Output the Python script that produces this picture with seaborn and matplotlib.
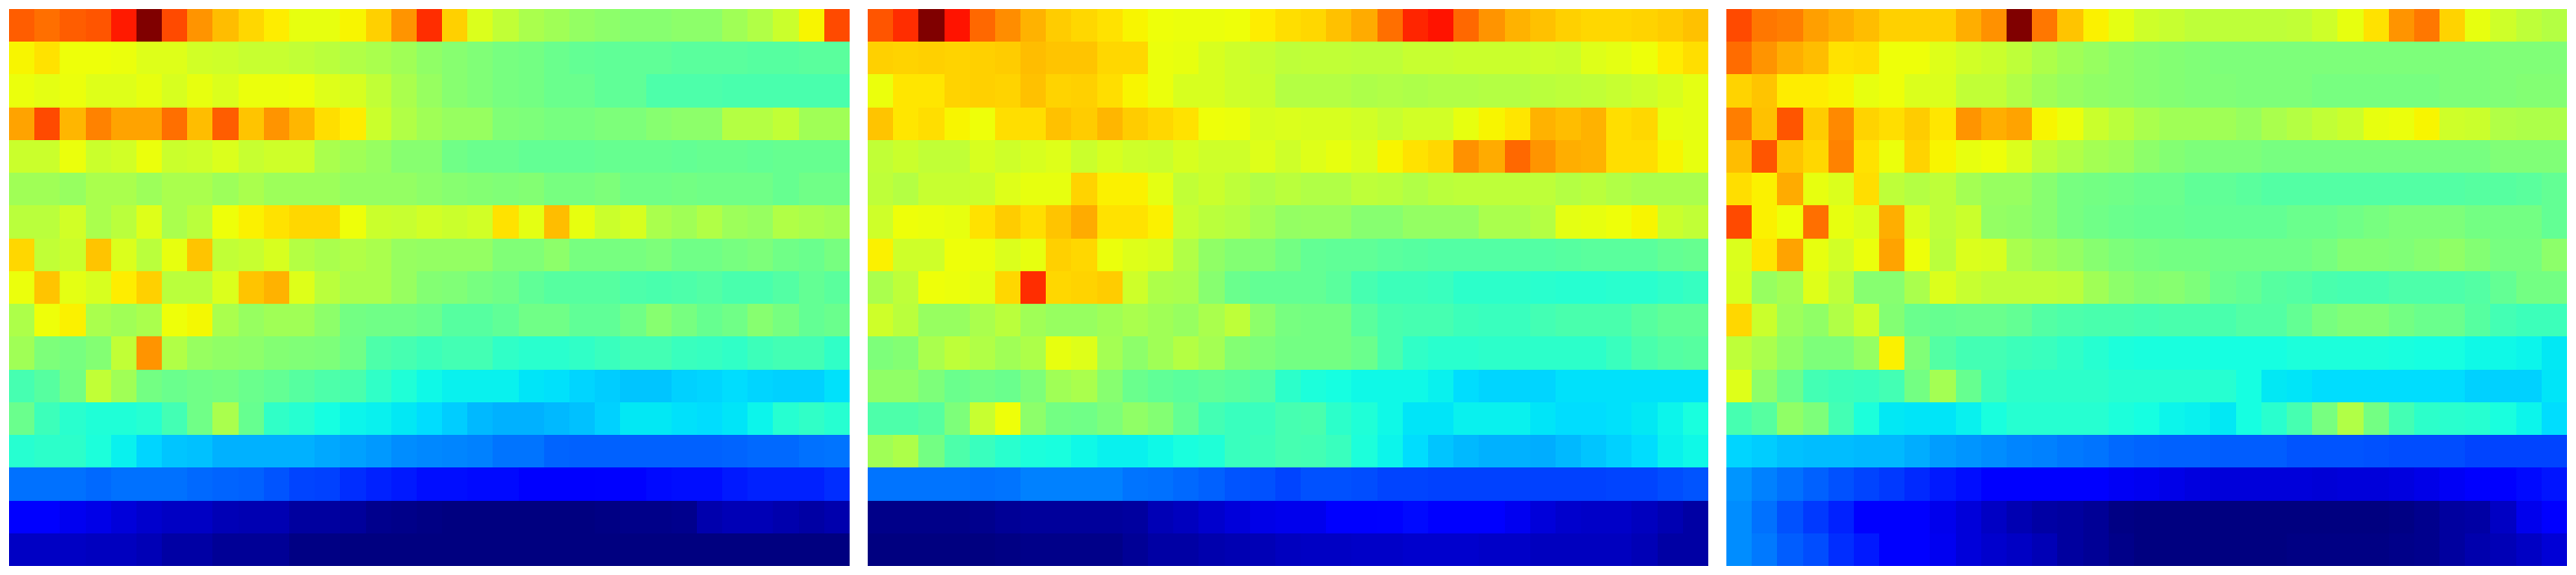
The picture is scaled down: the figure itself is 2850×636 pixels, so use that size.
import matplotlib
matplotlib.use("Agg")
import matplotlib.pyplot as plt
import numpy as np
import seaborn as sns

# values, on a 0-100 scale, top row first
panel_a = [
    [81,79,81,82,88,100,83,75,71,68,66,63,63,65,69,75,86,69,61.5,58.5,55.5,54.5,53,52,51.5,51.5,52,52,54.5,56.5,59.5,65,83],
    [65,67,64,64,63.5,62,62,60.5,60,59,59,58.5,57.5,56.5,55.5,54.5,52.5,51.5,50.5,49.5,49,48,47,46.5,46.5,46.5,46,46,46,45.5,45.5,46,46],
    [63.5,62.5,63.5,62,62,63,61,63,61.5,63.5,63.5,64,62,61,58.5,55.5,53.5,51.5,50.5,49.5,49,48,48,46.5,46.5,44.5,44.5,44.5,44,44,44,44,44],
    [73.5,83,71.5,77,73.5,73.5,79,71,81,70,75,71.5,67.5,66,59.5,56.5,54.5,53.5,53.5,50.5,50,49.5,49.5,50,50,51.5,52,52,57,57,58.5,54.5,54.5],
    [59.5,59.5,63.5,59.5,60.5,63.5,59.5,60,61.5,59,60,60,55.5,54.5,53.5,51.5,51.5,48.5,48,48,47,47,47,47.5,47.5,47.5,47,47.5,47.5,47,47.5,47.5,47.5],
    [54.5,54.5,53.5,55.5,55.5,54,55.5,55.5,54,55.5,54,54,54,53,53,53,52,51.5,51,50.5,51,49.5,49.5,50,48.5,48.5,49,48.5,48.5,48.5,47.5,48.5,48.5],
    [57.5,57.5,60.5,55.5,57.5,62,55.5,57.5,64,65.5,67,68,68,64,59.5,59,60.5,59.5,60.5,67,62.5,71,63,59.5,61,55.5,54.5,56.5,54,53.5,56.5,55.5,55],
    [68,58.5,59.5,70,61.5,57.5,63,70,58.5,59,61,57,55.5,56.5,55.5,53.5,53,53,53,50.5,50.5,52,49.5,49.5,49.5,50,48.5,48.5,49.5,50,48.5,48,49.5],
    [63.5,70,62.5,61,66,69,57.5,57.5,61.5,70,72,62,57.5,55.5,55.5,53.5,51,50.5,49.5,48.5,46.5,45.5,45.5,45.5,44.5,44,44.5,45,44,44,45,47,46],
    [56,64,65.5,55.5,54.5,55.5,64,64.5,55.5,53.5,54.5,54.5,52,49,48.5,48.5,48,45.5,45.5,46.5,48.5,48.5,46.5,46.5,48.5,51.5,49.5,47.5,48.5,51.5,49.5,47,48],
    [54.5,50,49.5,51,58.5,75,56.5,53.5,52.5,52,51,50.5,50,48.5,44.5,43.5,42.5,43,43,41,40,40,41,42,43,43,42,41.5,41,42.5,43,43,41],
    [43.5,45.5,49,58.5,54.5,49,48,48.5,49,48,47,45.5,44.5,44,41,39,37,36,36,36,35,34.5,33.5,32.5,32,32,33,33.5,34,33.5,33,33,34.5],
    [48,42.5,40,39,39,39.5,43,48.5,55.5,47.5,41,39.5,37.5,36.5,36,35.5,34,32.5,30.5,30,30,30.5,31.5,33,35.5,35.5,34.5,34,35,36.5,39.5,41,39.5],
    [39.5,40.5,40.5,38.5,36,33.5,32,31.5,30,30,30,30,29,28.5,27.5,26.5,26,25.5,25,24,24,22.5,22,22,22,22,22,22,22.5,23,23,23.5,24],
    [23.5,23.5,23.5,23,23.5,23.5,23.5,23,22.5,22,21,19.5,19,17,16,15,14,14,13.5,13.5,12,12,12,12.5,12.5,13.5,14,14,15,16,16,16,17],
    [11.5,11.5,10,9,8,7,6,6,5,4.5,4.5,3,3,2.5,1.5,1,0.5,0.3,0.3,0.3,0.3,0.3,0.3,0.6,1,1,1.5,4,5,5,4,3.5,4],
    [6,6,6,5.5,5.5,5,3.5,3.5,2,2,2,0.5,0.5,0.2,0.1,0,0,0,0,0,0,0,0,0,0,0,0,0,0,0,0,0,0],
]

panel_b = [
    [82,86,100,89,80,76,72,69.5,68,67,65,64,63.5,63.5,64,66,67.5,68,70.5,73,79,87,89,80,75,72,70.5,69,68,68,68.5,69.5,70.5],
    [69,68.5,69,68.5,69,69.5,71,70,70,68,68,63.5,63,61,60,59,58,58.5,58.5,58,58,59,59,59.5,59.5,59.5,60,59.5,62,62.5,64,66,67.5],
    [63.5,66.5,66.5,68.5,69,68.5,70.5,68.5,69,67.5,65,63.5,61,61,60,59.5,57,57,57,56,56.5,56,56.5,56.5,57,57,57.5,58,58.5,59,60,61,62.5],
    [70,66.5,67.5,65,64,67.5,67.5,70.5,69.5,71.5,69.5,68,67,64,63.5,61,61.5,61,61,60.5,59,60.5,60.5,63,65,66.5,72,71,72,67.5,68,63,62.5],
    [58.5,59.5,58.5,58.5,61,60,61,62,59.5,61,60,59.5,61,60,60,62,60,62,63,61.5,65,67,68,75.5,73,80,75,72.5,72,67.5,67.5,65,63],
    [58,57,59,59,59.5,62,63,63,68.5,65.5,65.5,62.5,58.5,59.5,58,56.5,57.5,56.5,56.5,58,57.5,56.5,57.5,58,58,58,58,57,57.5,56.5,55.5,55.5,55.5],
    [60,64,63.5,63,67,69.5,67.5,70,73,67,67,65.5,59,57.5,57,55,53,53.5,53.5,51.5,51.5,53,53,53,55.5,55.5,57,62.5,63,64,65,59.5,58.5],
    [65.5,60,60,64,63.5,61.5,63,69,68,63.5,62,61,56.5,52.5,51,51,49,47,46.7,46.7,46,45.5,45,45,45,45,45,45.5,46,46,46,47,47.5],
    [55.5,58,64,63.5,62.5,68,86,68,68.5,69.5,60,56,55.5,51.5,48,47,47,47,46,43.5,42.5,42.5,42,40.5,40.5,40.5,40,39.5,39.5,40,40,41,41.5],
    [60,57.5,53.5,53.5,55.5,57.5,54.5,53.5,53.5,54.5,55.5,54.5,53.5,55.5,58,52,49.5,49,49,46,44,43.5,43.5,42.5,42,42,43,44,44,44,45.5,46.5,46.5],
    [50,51,55.5,58,56.5,54.5,56,63,62,55,52,54.5,57,55,51,50,49,49,49,48,44,41,40,40,40.5,40.5,40.5,40.5,40.5,42,44,45,45.5],
    [52.5,52.5,50,48,48.5,48,50,54.5,55.5,51.5,48,46.5,46,46.5,46,45,40.5,38.5,37.5,37,37,37,36,34,33.5,33.5,33.5,34.5,34.5,34.5,34.5,34.5,34.5],
    [44.5,44.5,45.5,50,59,64,52,49,48.5,50,52.5,51,47,43,42,42,43.5,44,40.5,39,37,35,35,36,36,36,35,34,34,34.5,35.5,36.5,38],
    [54.5,56,49,44.5,42,40,38.5,38,37,36,36,37,38,39,42,42.5,43.5,43,42,38.5,36.5,34,32,30.5,30,30,29.5,30.5,32,33,34,36,37],
    [24,24,24,24,23.5,24,25,25,25,25,24,23.5,23,22,21,20.5,19.5,20.5,20.5,20,19.5,19.5,19,19,19,19,19,19,19,19.5,19.5,20,21],
    [1,1,1,1,1.5,2,2.5,2.5,2.5,2.5,3,5,5.5,7,8,9,9.5,9.5,11.5,11.5,12.5,13.5,11.5,11.5,11.5,10,8,7,6.5,6.5,5.5,4.5,3.5],
    [0,0,0,0,0.3,0.5,1,1,1,1,2,3.5,3.5,4,4.5,5,5.5,6,6,6.5,6.5,7,7,7,6.5,6.5,5.5,5.5,5.5,5.5,5,3.5,3.5],
]

panel_c = [
    [83,78.5,77.5,74,72.5,71,69,69,69,72.5,75.5,100,78.5,70,65.5,62.5,60,59,58,58,58,58,58.5,60,63,67,75,78.5,68.5,63,60,58,57],
    [79.5,75,72.5,71,67,67.5,64,64,62,60.5,59.5,58,56,54.5,53.5,52,51.5,51,50.5,50,50,50,50,50,50,50,50,50,50,50,50.5,50.5,50.5],
    [68.5,70,66,66,65,63,64,61.5,61.5,58.5,58.5,56.5,54.5,53.5,52.5,52,51.5,51,50.5,50.5,50,50,50,49.5,49.5,49.5,49.5,49.5,50,50,50.5,51,51],
    [77.5,70.5,82,69.5,76.5,68.5,67.5,69.5,66.5,75,72.5,73.5,65,63.5,59.5,57.5,55.5,54.5,54.5,54.5,53.5,55.5,57,58.5,59.5,63,63.5,65,60,59.5,56.5,56,56],
    [71,82,70,68,77,67,63.5,68.5,65,63,64,61.5,58,56.5,55,54,52,51,50,50,50,49.5,49.5,49.5,49.5,49.5,49.5,49.5,49.5,49.5,50.5,50.5,50.5],
    [67.5,65.5,73,63,61.5,67.5,58,57,58,55,53.5,53.5,51.5,49.5,49,48.5,48,48,46.5,46.5,46,45,45,45,45,45,45,45,45,45.5,45.5,46,47],
    [83,65.5,64,79,63,61.5,72.5,61.5,58,59.5,53,52.5,51.5,49.5,48.5,48,47.5,47.5,47,47,47,47,48,48,48.5,49.5,50,50,50,49,49,49,47],
    [61.5,66.5,73.5,63,60.5,63.5,73.5,64,57.5,61.5,61,55.5,54,53,51.5,50,49.5,49,49,48.5,48.5,48.5,48.5,49.5,51,51,50.5,51.5,52.5,51,49.5,49.5,52],
    [61,53.5,55,62,58,51.5,51.5,55.5,61.5,59,58,58,58,57.5,54.5,52,51,51.5,50,48,47,45.5,45,44,43.5,43.5,44.5,44.5,44.5,45,47,49,49],
    [68,59.5,54,52.5,56.5,60,51,48,47.5,48,48,47,45,44.5,44,44,43.5,44,44,44,45,45,47,49.5,50.5,50.5,49,48,48,45.5,43,42.5,42.5],
    [58,55.5,52.5,50,50,53,65.5,50.5,45,43,43,42.5,42,41,39.5,38.5,38,38,38,37.5,37.5,37.5,38.5,38.5,38.5,38.5,38,37.5,37.5,37,37,36.5,35.5],
    [62,52,48,43,42.5,42,43,49,55,47.5,42.5,40.5,40.5,40.5,40.5,39.5,39.5,39.5,39.5,39.5,37.5,35.5,35,34,34,34,34,34,34,33,33,33,35],
    [43.5,45.5,52.5,50,43,38.5,35.5,35,35,36,38,39.5,39.5,39.5,39.5,38.5,37.5,36.5,36,35.5,37.5,40,43.5,49.5,56.5,49,43,40.5,40,39.5,38,36.5,34],
    [33.5,32.5,31.5,31,31,30.5,30.5,29.5,28,27,26.5,25.5,25,24.5,24,23,22.5,22,22,21.5,21.5,21.5,21,21,21,20.5,20,20,20,19.5,19.5,19.5,19.5],
    [27,25,23.5,22,20.5,19.5,18,16.5,15,14,12,12,12,12,11,10.5,10,9,8.5,8,8,8,8,7.5,8,8,8.5,9,10.5,12,12,13.5,14.5],
    [26.5,23.5,20.5,18,16,11.5,12,11,9.5,8,6,4.5,3.5,3,2,0.5,0,0,0,0,0,0,0,0,0,0,0.5,1.5,3,3.5,6,9.5,12],
    [26.5,24.5,21.5,20,17,15,12,12,10,8,7,6,5,3,2,1,0,0,0,0,0,0,0.5,0.5,0.5,0.5,1,1.5,3,4,5,6,7.5],
]

panels = [panel_a, panel_b, panel_c]

W, H = 2850, 636
lefts = [10, 960, 1910]
panel_w, panel_h = 930, 616
bottom = 10

fig = plt.figure(figsize=(W / 100, H / 100), dpi=100, facecolor="white")

for left, panel in zip(lefts, panels):
    ax = fig.add_axes([left / W, bottom / H, panel_w / W, panel_h / H])
    sns.heatmap(
        np.array(panel, dtype=float),
        cmap="jet",
        vmin=0,
        vmax=100,
        cbar=False,
        xticklabels=False,
        yticklabels=False,
        linewidths=0,
        ax=ax,
    )
    ax.tick_params(left=False, bottom=False)

fig.savefig("out.png", dpi=100)
